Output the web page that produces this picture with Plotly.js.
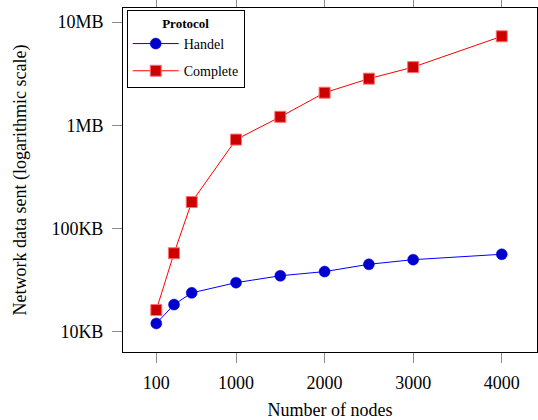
<!DOCTYPE html>
<html>
<head>
<meta charset="utf-8">
<script src="https://cdn.plot.ly/plotly-3.0.1.min.js"></script>
<style>html,body{margin:0;padding:0;background:#fff;}#chart{width:538px;height:420px;}</style>
</head>
<body>
<div id="chart"></div>
<script>
// Data (bytes)
const nodes = [100, 300, 500, 1000, 1500, 2000, 2500, 3000, 4000];
const handel = [12100, 18400, 23900, 30000, 35000, 38400, 45200, 50100, 56500];
const complete = [16300, 57800, 181000, 728000, 1210000, 2070000, 2830000, 3660000, 7280000];
const xTickVals = [100, 1000, 2000, 3000, 4000];
const xTickText = ['100', '1000', '2000', '3000', '4000'];
const yTickVals = [1e4, 1e5, 1e6, 1e7];
const yTickText = ['10KB', '100KB', '1MB', '10MB'];

const serif = 'Liberation Serif, Times New Roman, serif';

const traces = [
  {
    x: nodes, y: handel, name: 'Handel', type: 'scatter', mode: 'lines+markers',
    legendgroup: 'a',
    line: {color: '#0000ff', width: 1},
    marker: {symbol: 'circle', size: 11, color: '#0000cc', line: {color: '#0000e0', width: 0.5}}
  },
  {
    x: nodes, y: complete, name: 'Complete', type: 'scatter', mode: 'lines+markers',
    legendgroup: 'b',
    line: {color: '#ff0000', width: 1},
    marker: {symbol: 'square', size: 11, color: '#cc0000', line: {color: '#ff7070', width: 1}}
  }
];

const layout = {
  width: 538, height: 420,
  margin: {l: 123, r: 1, t: 8, b: 68},
  paper_bgcolor: '#fff', plot_bgcolor: '#fff',
  font: {family: serif, size: 18, color: '#000'},
  showlegend: true,
  legend: {
    x: 0.009, y: 0.994, xanchor: 'left', yanchor: 'top',
    bgcolor: '#fff', bordercolor: '#000', borderwidth: 1,
    font: {family: serif, size: 14, color: '#000'},
    title: {text: '<b>Protocol</b>', side: 'top center', font: {family: serif, size: 13}},
    itemwidth: 46,
    tracegroupgap: 6
  },
  xaxis: {
    range: [-276, 4398],
    tickmode: 'array', tickvals: xTickVals, ticktext: xTickText,
    ticks: 'outside', ticklen: 10, tickcolor: '#8c8c8c', tickwidth: 1,
    showgrid: false, zeroline: false,
    showline: true, linecolor: '#000', linewidth: 1, mirror: 'allticks',
    tickfont: {family: serif, size: 18},
    ticklabelstandoff: 4,
    title: {text: 'Number of nodes', font: {family: serif, size: 18}, standoff: 13}
  },
  yaxis: {
    type: 'log', range: [3.806, 7.136],
    tickmode: 'array', tickvals: yTickVals, ticktext: yTickText,
    ticks: 'outside', ticklen: 10, tickcolor: '#8c8c8c', tickwidth: 1,
    showgrid: false, zeroline: false,
    showline: true, linecolor: '#000', linewidth: 1, mirror: 'allticks',
    tickfont: {family: serif, size: 18},
    ticklabelstandoff: 5,
    title: {text: 'Network data sent (logarithmic scale)', font: {family: serif, size: 18}, standoff: 20}
  }
};

Plotly.newPlot('chart', traces, layout, {displayModeBar: false, staticPlot: true});
</script>
</body>
</html>
